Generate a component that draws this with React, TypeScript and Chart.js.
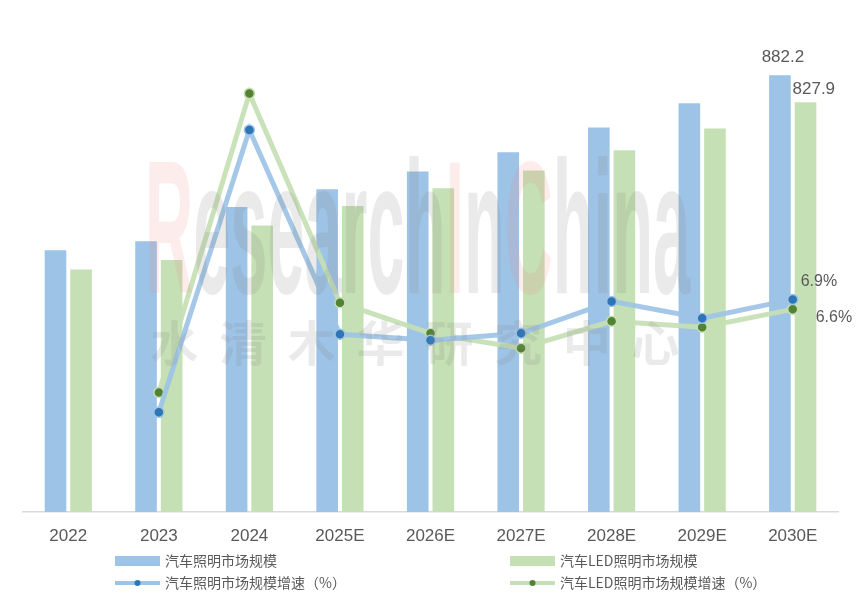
import React, { useEffect, useRef } from "react";
import { Chart, registerables } from "chart.js";

Chart.register(...registerables);

const categories = ["2022", "2023", "2024", "2025E", "2026E", "2027E", "2028E", "2029E", "2030E"];
const marketSize = [529, 547, 616, 652, 688, 727, 777, 826, 882.2];
const ledMarketSize = [490, 509, 579, 618, 654, 690, 731, 775, 827.9];
const marketGrowth = [null, 3.5, 12.0, 5.85, 5.67, 5.88, 6.84, 6.33, 6.9];
const ledGrowth = [null, 4.1, 13.1, 6.8, 5.88, 5.43, 6.24, 6.06, 6.6];
const seriesNames = ["汽车照明市场规模", "汽车LED照明市场规模", "汽车照明市场规模增速（%）", "汽车LED照明市场规模增速（%）"];
const watermarkLatin = "ResearchInChina";
const watermarkChinese = "水清木华研究中心";

const BLUE = "#9dc3e6";
const GREEN = "#c5e0b4";
const DARK_BLUE = "#2e75b6";
const DARK_GREEN = "#548235";
const TEXT = "#595959";
const NUM_FONT = '"Liberation Sans", Arial, sans-serif';

const decorPlugin = {
  id: "decor",
  afterDatasetsDraw(chart: any) {
    const ctx = chart.ctx as CanvasRenderingContext2D;
    // watermark
    ctx.save();
    ctx.font = 'bold 190px "Liberation Sans", Arial, sans-serif';
    ctx.textBaseline = "alphabetic";
    const total = ctx.measureText(watermarkLatin).width;
    const x0 = 145, x1 = 690, base = 293;
    const sx = (x1 - x0) / total;
    let cx = 0;
    for (const ch of watermarkLatin) {
      const w = ctx.measureText(ch).width;
      const pink = ch === "R" || ch === "I" || ch === "C";
      ctx.fillStyle = pink ? "rgba(240,130,130,0.15)" : "rgba(130,130,130,0.17)";
      ctx.save();
      ctx.translate(x0 + cx * sx, base);
      ctx.scale(sx, 1);
      ctx.fillText(ch, 0, 0);
      ctx.restore();
      cx += w;
    }
    ctx.font = 'bold 48px "Noto Sans CJK SC", sans-serif';
    ctx.fillStyle = "rgba(140,140,140,0.18)";
    ctx.textAlign = "center";
    ctx.textBaseline = "middle";
    const chars = Array.from(watermarkChinese);
    const pitch = (690 - 140) / chars.length;
    chars.forEach((c, i) => ctx.fillText(c, 140 + pitch * (i + 0.5), 343));
    ctx.restore();

    // data labels for the last category
    const n = categories.length - 1;
    ctx.save();
    ctx.fillStyle = TEXT;
    ctx.textBaseline = "middle";
    const b0 = chart.getDatasetMeta(2).data[n];
    const b1 = chart.getDatasetMeta(3).data[n];
    const l0 = chart.getDatasetMeta(0).data[n];
    const l1 = chart.getDatasetMeta(1).data[n];
    ctx.font = "17px " + NUM_FONT;
    ctx.textAlign = "center";
    ctx.fillText(String(marketSize[n]), b0.x + 3, b0.y - 18);
    ctx.textAlign = "left";
    ctx.fillText(String(ledMarketSize[n]), b1.x - 13, b1.y - 13);
    ctx.font = "16px " + NUM_FONT;
    ctx.fillText(marketGrowth[n] + "%", l0.x + 8, l0.y - 18);
    ctx.fillText(ledGrowth[n] + "%", l1.x + 23, l1.y + 8);
    ctx.restore();
  },
  afterDraw(chart: any) {
    const ctx = chart.ctx as CanvasRenderingContext2D;
    ctx.save();
    ctx.font = '14px "Noto Sans CJK SC", sans-serif';
    ctx.textBaseline = "middle";
    ctx.textAlign = "left";
    const cols = [115, 510];
    const rows = [561, 583];
    const items = [
      { name: seriesNames[0], color: BLUE, dot: null, type: "bar", c: 0, r: 0 },
      { name: seriesNames[1], color: GREEN, dot: null, type: "bar", c: 1, r: 0 },
      { name: seriesNames[2], color: BLUE, dot: DARK_BLUE, type: "line", c: 0, r: 1 },
      { name: seriesNames[3], color: GREEN, dot: DARK_GREEN, type: "line", c: 1, r: 1 },
    ];
    for (const it of items) {
      const x = cols[it.c];
      const y = rows[it.r];
      if (it.type === "bar") {
        ctx.fillStyle = it.color;
        ctx.fillRect(x, y - 5, 45, 10);
      } else {
        ctx.strokeStyle = it.color;
        ctx.lineWidth = 4;
        ctx.beginPath();
        ctx.moveTo(x, y);
        ctx.lineTo(x + 45, y);
        ctx.stroke();
        ctx.fillStyle = it.dot as string;
        ctx.beginPath();
        ctx.arc(x + 22.5, y, 3, 0, Math.PI * 2);
        ctx.fill();
      }
      ctx.fillStyle = TEXT;
      ctx.fillText(it.name, x + 50, y);
    }
    ctx.restore();
  },
};

export default function App() {
  const ref = useRef<HTMLCanvasElement | null>(null);
  useEffect(() => {
    if (!ref.current) return;
    const lineCommon = {
      type: "line",
      yAxisID: "y1",
      borderWidth: 5,
      pointRadius: 5,
      pointBorderWidth: 1.5,
      tension: 0,
      order: 0,
    };
    const barCommon = {
      type: "bar",
      yAxisID: "y",
      categoryPercentage: 0.565,
      barPercentage: 0.845,
      order: 1,
    };
    const chart = new Chart(ref.current, {
      type: "bar",
      data: {
        labels: categories,
        datasets: [
          {
            ...lineCommon,
            label: seriesNames[2],
            data: marketGrowth as any,
            borderColor: "rgba(157,195,230,0.92)",
            pointBackgroundColor: DARK_BLUE,
            pointBorderColor: BLUE,
          } as any,
          {
            ...lineCommon,
            label: seriesNames[3],
            data: ledGrowth as any,
            borderColor: "rgba(197,224,180,0.92)",
            pointBackgroundColor: DARK_GREEN,
            pointBorderColor: GREEN,
          } as any,
          { ...barCommon, label: seriesNames[0], data: marketSize, backgroundColor: BLUE } as any,
          { ...barCommon, label: seriesNames[1], data: ledMarketSize, backgroundColor: GREEN } as any,
        ],
      },
      options: {
        animation: false,
        responsive: true,
        maintainAspectRatio: false,
        layout: { padding: { left: 23, right: 24, top: 17, bottom: 0 } },
        plugins: { legend: { display: false }, tooltip: { enabled: false } },
        scales: {
          x: {
            grid: { display: false },
            border: { color: "#d9d9d9", width: 1.5 },
            ticks: {
              color: TEXT,
              padding: 6,
              font: { size: 17, family: NUM_FONT },
            },
            afterFit(scale: any) {
              scale.height = 94;
            },
          },
          y: { display: false, min: 0, max: 1000 },
          y1: { display: false, min: 0.5, max: 15.4, position: "right" },
        },
      },
      plugins: [decorPlugin],
    });
    return () => chart.destroy();
  }, []);
  return (
    <div style={{ position: "fixed", left: 0, top: 0, width: 862, height: 606, background: "#fff" }}>
      <canvas ref={ref} />
    </div>
  );
}
